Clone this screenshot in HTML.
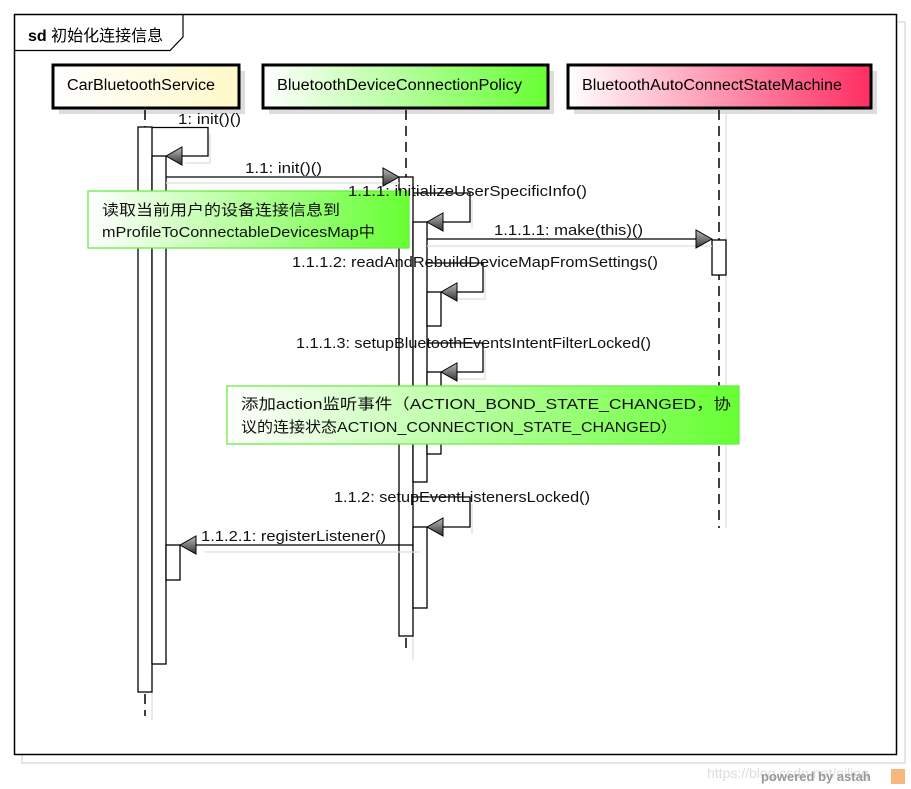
<!DOCTYPE html>
<html><head><meta charset="utf-8"><style>
html,body{margin:0;padding:0;background:#fff;}
svg{display:block;font-family:"Liberation Sans","Noto Sans CJK SC",sans-serif;}
</style></head><body>
<svg width="911" height="789" viewBox="0 0 911 789" xmlns="http://www.w3.org/2000/svg">
<defs>
<linearGradient id="gy" x1="0" x2="1"><stop offset="0" stop-color="#fff"/><stop offset="1" stop-color="#fff8c8"/></linearGradient>
<linearGradient id="gg" x1="0" x2="1"><stop offset="0" stop-color="#fff"/><stop offset="1" stop-color="#66ff33"/></linearGradient>
<linearGradient id="gr" x1="0" x2="1"><stop offset="0" stop-color="#fff"/><stop offset="1" stop-color="#ff2d62"/></linearGradient>
<linearGradient id="ga" x1="0" y1="0" x2="0" y2="1"><stop offset="0" stop-color="#bbb"/><stop offset="1" stop-color="#333"/></linearGradient>
</defs>
<rect x="22" y="22" width="883" height="741" fill="none" stroke="#ddd" stroke-width="1.5"/>
<rect x="14.5" y="14.5" width="882" height="740" fill="#fff" stroke="#000" stroke-width="1.5"/>
<path d="M14.5 50.5 H170 L183 37 V14.5" fill="none" stroke="#000" stroke-width="1.2"/>
<text x="28" y="41" font-size="16"><tspan font-weight="bold">sd</tspan> 初始化连接信息</text>

<rect x="59" y="71" width="186" height="43" fill="#ddd"/>
<rect x="53" y="65" width="186" height="43" fill="url(#gy)" stroke="#000" stroke-width="3"/>
<text x="67" y="90" font-size="15.5" textLength="148" lengthAdjust="spacingAndGlyphs">CarBluetoothService</text>
<rect x="269" y="71" width="285" height="43" fill="#ddd"/>
<rect x="263" y="65" width="285" height="43" fill="url(#gg)" stroke="#000" stroke-width="3"/>
<text x="277" y="90" font-size="15.5" textLength="245" lengthAdjust="spacingAndGlyphs">BluetoothDeviceConnectionPolicy</text>
<rect x="574" y="71" width="303" height="43" fill="#ddd"/>
<rect x="568" y="65" width="303" height="43" fill="url(#gr)" stroke="#000" stroke-width="3"/>
<text x="582" y="90" font-size="15.5" textLength="260" lengthAdjust="spacingAndGlyphs">BluetoothAutoConnectStateMachine</text>

<g stroke="#000" stroke-width="1.5" stroke-dasharray="10,6" fill="none">
<line x1="145" y1="110" x2="145" y2="127"/>
<line x1="145" y1="694" x2="145" y2="716"/>
<line x1="406" y1="110" x2="406" y2="177"/>
<line x1="406" y1="638" x2="406" y2="654"/>
<line x1="719" y1="110" x2="719" y2="528"/>
</g>
<g stroke="#ddd" stroke-width="1.2"><line x1="152" y1="692" x2="152" y2="720"/><line x1="413" y1="636" x2="413" y2="660"/><line x1="726" y1="110" x2="726" y2="528"/></g>

<g fill="#fff" stroke="#000" stroke-width="1.3">
<rect x="138" y="127" width="14" height="565"/>
<rect x="152" y="156" width="14" height="508"/>
<rect x="166" y="545" width="14" height="35"/>
<rect x="399" y="177" width="14" height="459"/>
<rect x="413" y="222" width="14" height="260"/>
<rect x="427" y="292" width="14" height="34"/>
<rect x="427" y="372" width="14" height="82"/>
<rect x="413" y="527" width="14" height="81"/>
<rect x="712" y="240" width="14" height="35"/>
</g>

<g fill="none" stroke="#000" stroke-width="1.3">
<path d="M152 127.5 H208 V156 H180"/>
<line x1="166" y1="177" x2="385" y2="177"/>
<path d="M413 193 H470 V222 H442"/>
<line x1="427" y1="239" x2="697" y2="239"/>
<path d="M427 263 H483 V292 H456"/>
<path d="M427 343 H483 V372 H456"/>
<path d="M413 497 H470 V527 H442"/>
<line x1="413" y1="545" x2="195" y2="545"/>
</g>
<g fill="none" stroke="#ddd" stroke-width="1.2">
<path d="M210 134 V163 H185"/>
<line x1="166" y1="183" x2="399" y2="183"/>
<path d="M472 200 V229"/>
<line x1="427" y1="246" x2="712" y2="246"/>
<path d="M485 270 V299 H456"/>
<path d="M485 350 V379 H456"/>
<path d="M472 504 V534"/>
<line x1="205" y1="552" x2="420" y2="552"/>
</g>
<g stroke="#000" stroke-width="1" fill="url(#ga)">
<path d="M166 156 L182 147 L182 165 Z"/>
<path d="M399 177 L383 168 L383 186 Z"/>
<path d="M427 222 L443 213 L443 231 Z"/>
<path d="M712 239 L696 230 L696 248 Z"/>
<path d="M441 292 L457 283 L457 301 Z"/>
<path d="M441 372 L457 363 L457 381 Z"/>
<path d="M427 527 L443 518 L443 536 Z"/>
<path d="M180 545 L196 536 L196 554 Z"/>
</g>

<rect x="88" y="191" width="321" height="57" fill="url(#gg)" stroke="#66ee44" stroke-width="1.3"/>
<rect x="227" y="386" width="512" height="58" fill="url(#gg)" stroke="#66ee44" stroke-width="1.3"/>

<g font-size="15" fill="#111" lengthAdjust="spacingAndGlyphs">
<text x="178" y="124" textLength="63" lengthAdjust="spacingAndGlyphs">1: init()()</text>
<text x="245" y="173" textLength="77" lengthAdjust="spacingAndGlyphs">1.1: init()()</text>
<text x="348" y="196" textLength="239" lengthAdjust="spacingAndGlyphs">1.1.1: initializeUserSpecificInfo()</text>
<text x="494" y="235" textLength="149" lengthAdjust="spacingAndGlyphs">1.1.1.1: make(this)()</text>
<text x="292" y="267" textLength="366" lengthAdjust="spacingAndGlyphs">1.1.1.2: readAndRebuildDeviceMapFromSettings()</text>
<text x="296" y="348" textLength="355" lengthAdjust="spacingAndGlyphs">1.1.1.3: setupBluetoothEventsIntentFilterLocked()</text>
<text x="334" y="502" textLength="256" lengthAdjust="spacingAndGlyphs">1.1.2: setupEventListenersLocked()</text>
<text x="201" y="541" textLength="185" lengthAdjust="spacingAndGlyphs">1.1.2.1: registerListener()</text>
<text x="102" y="215" textLength="238" lengthAdjust="spacingAndGlyphs">读取当前用户的设备连接信息到</text>
<text x="102" y="237" textLength="273" lengthAdjust="spacingAndGlyphs">mProfileToConnectableDevicesMap中</text>
<text x="241" y="409" textLength="490" lengthAdjust="spacingAndGlyphs">添加action监听事件（ACTION_BOND_STATE_CHANGED，协</text>
<text x="241" y="432" textLength="436" lengthAdjust="spacingAndGlyphs">议的连接状态ACTION_CONNECTION_STATE_CHANGED）</text>
</g>
<text x="707" y="778" font-size="14" fill="#ddd">https://blog.csdn.net/qiling</text>
<text x="761" y="781" font-size="13" font-weight="bold" fill="#999">powered by astah</text>
<rect x="891" y="769" width="14" height="15" fill="#f5b87a"/>
</svg>
</body></html>
